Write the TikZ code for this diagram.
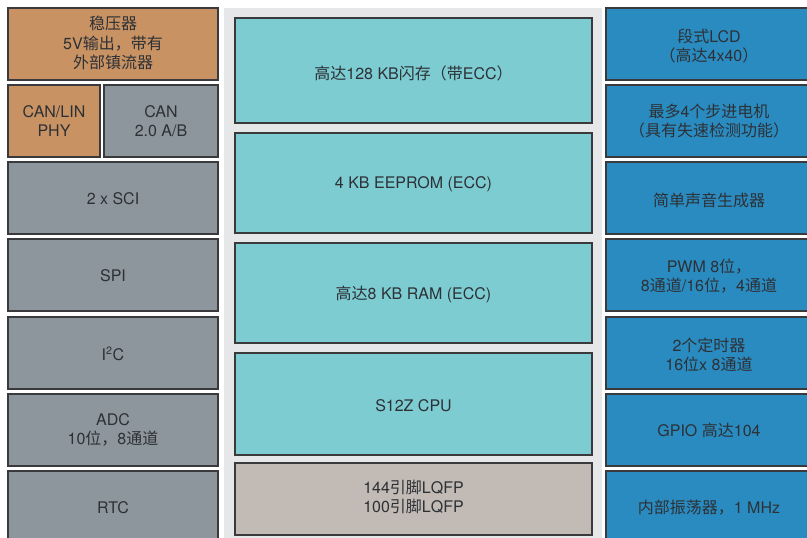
\documentclass[tikz,border=0pt]{standalone}
\usepackage{fontspec}
\setmainfont{TeX Gyre Heros}
\newfontfamily\cjk{Noto Sans CJK SC}
\newcommand{\zh}[1]{{\cjk #1}}

\begin{document}
\begin{tikzpicture}[x=0.75pt,y=0.75pt,yscale=-1,xscale=1,
  blk/.style={draw={rgb, 255:red, 58; green, 58; blue, 60 }, line width=1.1},
  orangeblk/.style={blk, fill={rgb, 255:red, 201; green, 146; blue, 99 }},
  grayblk/.style={blk, fill={rgb, 255:red, 142; green, 150; blue, 157 }},
  tealblk/.style={blk, fill={rgb, 255:red, 124; green, 204; blue, 210 }},
  blueblk/.style={blk, fill={rgb, 255:red, 42; green, 139; blue, 192 }},
  tanblk/.style={blk, fill={rgb, 255:red, 193; green, 186; blue, 181 }},
  lbl/.style={align=center, inner sep=0.75pt, text={rgb, 255:red, 45; green, 49; blue, 54 }, font=\fontsize{12}{14.6}\selectfont}
]
%set diagram left start at 0, and has height of 537
\clip (0,0) rectangle (807,537);
\fill [white] (0,0) rectangle (807,537);

%Shape: Rectangle [background of the core column]
\fill [color={rgb, 255:red, 230; green, 231; blue, 233 }] (224,8) rectangle (602,545);

%Shape: Rectangle [left column]
\draw [orangeblk] (8,8) rectangle (218,80);
\draw [orangeblk] (8,85) rectangle (100,157);
\draw [grayblk] (104,85) rectangle (218,157);
\draw [grayblk] (8,162) rectangle (218,234);
\draw [grayblk] (8,239) rectangle (218,311);
\draw [grayblk] (8,317) rectangle (218,389);
\draw [grayblk] (8,394) rectangle (218,466);
\draw [grayblk] (8,471) rectangle (218,545);

%Shape: Rectangle [core column]
\draw [tealblk] (235,18) rectangle (592,123);
\draw [tealblk] (235,133) rectangle (592,233);
\draw [tealblk] (235,243) rectangle (592,343);
\draw [tealblk] (235,353) rectangle (592,455);
\draw [tanblk] (235,463) rectangle (592,535);

%Shape: Rectangle [right column]
\draw [blueblk] (606,8) rectangle (813,80);
\draw [blueblk] (606,85) rectangle (813,157);
\draw [blueblk] (606,162) rectangle (813,234);
\draw [blueblk] (606,239) rectangle (813,311);
\draw [blueblk] (606,317) rectangle (813,389);
\draw [blueblk] (606,394) rectangle (813,466);
\draw [blueblk] (606,471) rectangle (813,545);

% Text Node
\node [lbl] (regulator) at (113,43) {\zh{稳压器}\\5V\zh{输出，带有}\\\zh{外部镇流器}};
% Text Node
\node [lbl] (canlin) at (54,121) {CAN/LIN\\PHY};
% Text Node
\node [lbl] (can) at (161,121) {CAN\\2.0 A/B};
% Text Node
\node [lbl] (sci) at (113,199) {2 x SCI};
% Text Node
\node [lbl] (spi) at (113,276) {SPI};
% Text Node
\node [lbl] (iic) at (113,354) {I\textsuperscript{2}C};
% Text Node
\node [lbl] (adc) at (113,430) {ADC\\10\zh{位，}8\zh{通道}};
% Text Node
\node [lbl] (rtc) at (113,508) {RTC};

% Text Node
\node [lbl] (flash) at (413.5,73) {\zh{高达}128 KB\zh{闪存（带}ECC\zh{）}};
% Text Node
\node [lbl] (eeprom) at (413.5,184) {4 KB EEPROM (ECC)};
% Text Node
\node [lbl] (ram) at (413.5,294) {\zh{高达}8 KB RAM (ECC)};
% Text Node
\node [lbl] (cpu) at (413.5,406) {S12Z CPU};
% Text Node
\node [lbl] (package) at (413.5,497) {144\zh{引脚}LQFP\\100\zh{引脚}LQFP};

% Text Node
\node [lbl] (lcd) at (709,46) {\zh{段式}LCD\\\zh{（高达}4x40\zh{）}};
% Text Node
\node [lbl] (stepper) at (709,121) {\zh{最多}4\zh{个步进电机}\\\zh{（具有失速检测功能）}};
% Text Node
\node [lbl] (sound) at (709,200) {\zh{简单声音生成器}};
% Text Node
\node [lbl] (pwm) at (709,276) {PWM 8\zh{位，}\\8\zh{通道}/16\zh{位，}4\zh{通道}};
% Text Node
\node [lbl] (timer) at (709,355) {2\zh{个定时器}\\16\zh{位}x 8\zh{通道}};
% Text Node
\node [lbl] (gpio) at (709,430) {GPIO \zh{高达}104};
% Text Node
\node [lbl] (osc) at (709,508) {\zh{内部振荡器，}1 MHz};

\end{tikzpicture}
\end{document}
